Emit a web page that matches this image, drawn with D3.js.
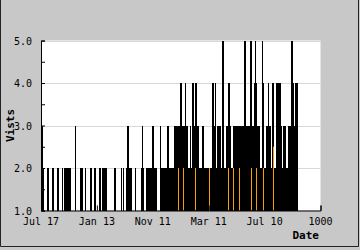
<!DOCTYPE html>
<html>
<head>
<meta charset="utf-8">
<script src="https://cdn.jsdelivr.net/npm/d3@7"></script>
<style>
  body { margin: 0; background: #c8c8c8; }
  svg { display: block; }
</style>
</head>
<body>
<div id="chart"></div>
<script>
// runs of visits: [first index, last index, visits]
const visitRuns = [
  [2,5,3],[5,12,2],[20,29,2],[38,47,2],[56,63,2],[74,77,2],[81,88,2],[91,106,2],
  [122,125,3],[140,150,2],[156,160,2],[176,183,2],[190,197,2],[208,213,2],[219,235,2],
  [262,267,2],[285,288,2],[292,297,2],[305,306,2],[306,314,3],[314,326,2],[335,339,2],
  [357,360,2],[360,366,3],[366,367,2],[376,396,2],[396,403,3],[403,416,2],[416,425,1],
  [425,430,3],[430,452,2],[452,459,3],[459,475,2],[475,498,3],[498,505,4],[505,516,3],
  [516,520,4],[520,525,3],[525,534,2],[534,538,3],[538,541,2],[541,547,4],[547,552,3],
  [552,559,4],[559,566,3],[566,575,2],[575,582,3],[582,602,2],[606,611,2],[611,618,4],
  [618,622,3],[622,625,4],[625,631,2],[631,643,3],[643,649,2],[649,656,5],[656,663,2],
  [663,668,3],[668,676,4],[676,681,3],[681,688,2],[688,704,3],[704,706,2],[706,719,3],
  [719,720,2],[720,726,3],[726,728,4],[728,735,5],[735,746,3],[746,749,2],[749,756,5],
  [756,763,3],[763,767,4],[767,771,5],[771,774,4],[774,785,3],[785,790,2],[790,796,5],
  [796,799,4],[799,806,2],[806,812,3],[812,817,4],[817,824,3],[824,828,2],[828,835,4],
  [835,842,2],[842,857,4],[857,862,3],[862,867,2],[867,876,3],[876,882,2],[882,894,3],
  [894,900,5],[900,905,4],[905,910,3],[910,918,4]
];

// second series, thin orange marks
const orangeDays = [489, 508, 550, 601, 668, 688, 708, 753, 771, 795, 831];
const orangeValues = [2, 2, 2, 2, 2, 2, 2, 2, 2, 2, 2.5];

const xTickValues = [0, 200, 400, 600, 800, 1000];
const xTickLabels = ["Jul 17", "Jan 13", "Nov 11", "Mar 11", "Jul 10", "1000"];
const yTickValues = [1, 2, 3, 4, 5];

const width = 360, height = 250;
const plot = { left: 41, right: 320.5, top: 40.5, bottom: 210.5 };

const svg = d3.select("#chart")
  .append("svg")
  .attr("width", width)
  .attr("height", height);

const xScale = d3.scaleLinear().domain([0, 1000]).range([plot.left, plot.right]);
const yScale = d3.scaleLinear().domain([1, 5]).range([plot.bottom, plot.top]);

// outer frame
svg.append("path")
  .attr("d", `M0.5,0 V246.5 H358.5 V0`)
  .attr("fill", "none")
  .attr("stroke", "#222")
  .attr("stroke-width", 1);

// white plot area
svg.append("rect")
  .attr("x", plot.left)
  .attr("y", plot.top)
  .attr("width", plot.right - plot.left)
  .attr("height", plot.bottom - plot.top)
  .attr("fill", "#fff");

// grid
svg.append("g")
  .selectAll("line")
  .data(yTickValues.slice(1))
  .enter()
  .append("line")
  .attr("x1", plot.left)
  .attr("x2", plot.right)
  .attr("y1", d => Math.round(yScale(d)) + 0.5)
  .attr("y2", d => Math.round(yScale(d)) + 0.5)
  .attr("stroke", "#d9d9d9");

// bars
svg.append("g")
  .attr("shape-rendering", "crispEdges")
  .selectAll("rect")
  .data(visitRuns.filter(d => d[2] > 1))
  .enter()
  .append("rect")
  .attr("x", d => xScale(d[0]))
  .attr("width", d => Math.max(1, xScale(d[1]) - xScale(d[0])))
  .attr("y", d => yScale(d[2]))
  .attr("height", d => yScale(1) - yScale(d[2]))
  .attr("fill", "#000");

// orange marks
svg.append("g")
  .selectAll("line")
  .data(orangeDays)
  .enter()
  .append("line")
  .attr("x1", d => Math.round(xScale(d)) + 0.5)
  .attr("x2", d => Math.round(xScale(d)) + 0.5)
  .attr("y1", yScale(1))
  .attr("y2", (d, i) => yScale(orangeValues[i]))
  .attr("stroke", "#f5a000")
  .attr("stroke-width", 1);

// y axis, ticks pointing into the plot
const yAxis = d3.axisRight(yScale)
  .tickValues(d3.range(1, 5.01, 0.5))
  .tickSize(4)
  .tickFormat("");
svg.append("g")
  .attr("transform", `translate(${plot.left},0)`)
  .call(yAxis)
  .call(g => g.select(".domain").attr("stroke", "#000"));

// x axis, ticks pointing up
const xAxis = d3.axisTop(xScale)
  .tickValues(xTickValues)
  .tickSize(5)
  .tickFormat("");
svg.append("g")
  .attr("transform", `translate(0,${plot.bottom})`)
  .call(xAxis);

// tick labels
svg.append("g")
  .selectAll("text")
  .data(yTickValues)
  .enter()
  .append("text")
  .attr("x", 32)
  .attr("y", d => yScale(d) + 4)
  .attr("text-anchor", "end")
  .style("font-family", "DejaVu Sans Mono")
  .style("font-size", "10px")
  .text(d => d3.format(".1f")(d));

svg.append("g")
  .selectAll("text")
  .data(xTickValues)
  .enter()
  .append("text")
  .attr("x", d => xScale(d))
  .attr("y", 224.5)
  .attr("text-anchor", "middle")
  .style("font-family", "DejaVu Sans Mono")
  .style("font-size", "10px")
  .text((d, i) => xTickLabels[i]);

// axis titles
svg.append("text")
  .attr("x", 319)
  .attr("y", 239)
  .attr("text-anchor", "end")
  .style("font-family", "DejaVu Sans Mono")
  .style("font-weight", "bold")
  .style("font-size", "11px")
  .text("Date");

svg.append("text")
  .attr("transform", "translate(14," + (plot.top + plot.bottom) / 2 + ") rotate(-90)")
  .attr("text-anchor", "middle")
  .style("font-family", "DejaVu Sans Mono")
  .style("font-weight", "bold")
  .style("font-size", "11px")
  .text("Vists");
</script>
</body>
</html>
